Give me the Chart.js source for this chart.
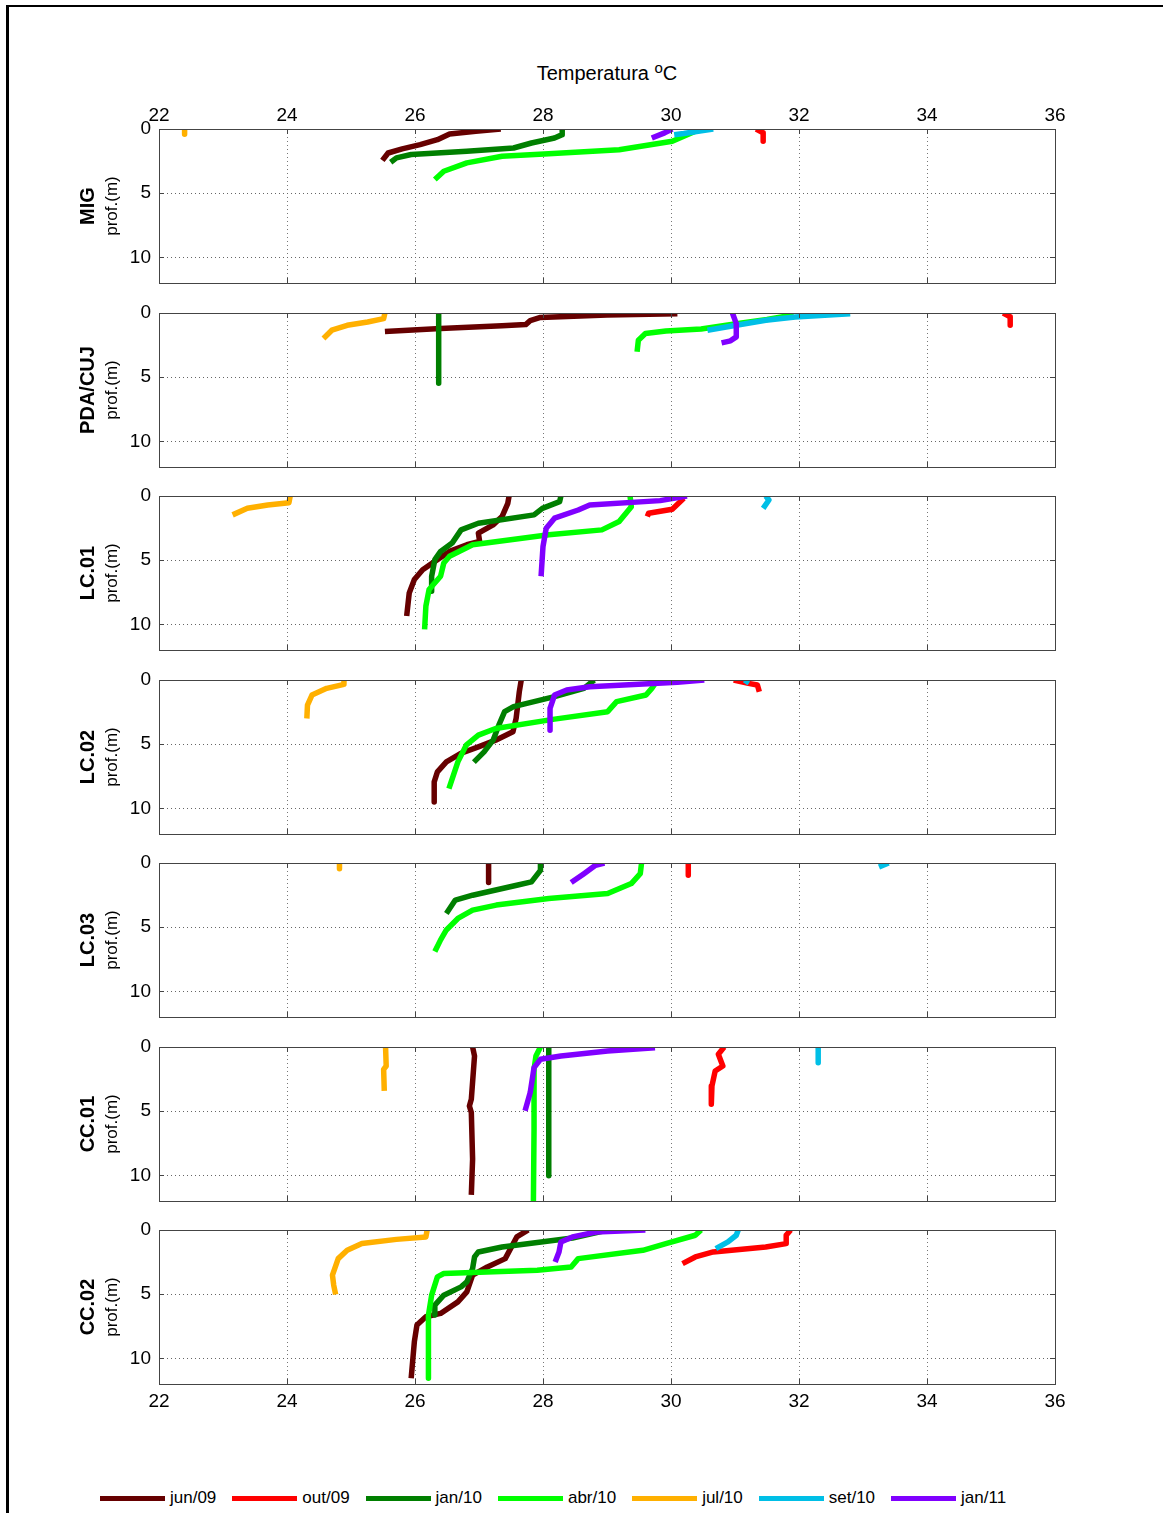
<!DOCTYPE html>
<html>
<head>
<meta charset="utf-8">
<script src="https://cdn.jsdelivr.net/npm/chart.js@4.4.1/dist/chart.umd.min.js"></script>
<style>
  body { margin: 0; background: #fff; width: 1163px; height: 1513px; overflow: hidden; position: relative; font-family: 'Liberation Sans', Arial, sans-serif; }
  #frame { position: absolute; left: 6px; top: 5px; width: 1300px; height: 1600px; border-left: 3px solid #000; border-top: 2px solid #000; }
  #title { position: absolute; left: 159px; width: 896px; top: 61px; line-height: 24px; text-align: center; font-size: 20px; color: #000; }
  #title sup { font-size: 15px; vertical-align: 7px; line-height: 0; }
  canvas { position: absolute; left: 0; }
  #legend { position: absolute; left: 100px; top: 1487px; height: 22px; display: flex; align-items: center; font-size: 17px; color: #000; }
  #legend .sw { width: 65px; height: 5px; margin-right: 5px; }
  #legend .lb { margin-right: 16px; }
</style>
</head>
<body>
<div id="frame"></div>
<div id="title">Temperatura <sup>o</sup>C</div>
<div id="legend"></div>
<script>
// Axis ticks
var tempTicks = [22, 24, 26, 28, 30, 32, 34, 36];
var depthTicks = [0, 5, 10];

// Campaigns and stations
var seriesNames = ['jun/09', 'out/09', 'jan/10', 'abr/10', 'jul/10', 'set/10', 'jan/11'];
var stationNames = ['MIG', 'PDA/CUJ', 'LC.01', 'LC.02', 'LC.03', 'CC.01', 'CC.02'];

// Profiles: [temperature (C), depth (m)]
// MIG
var migJun09 = [[27.34, 0], [26.95, 0.18], [26.54, 0.39], [26.35, 0.83], [26.08, 1.22], [25.8, 1.55], [25.58, 1.87], [25.49, 2.45]];
var migOut09 = [[31.33, 0], [31.44, 0.3], [31.44, 0.96]];
var migJan10 = [[28.3, 0], [28.3, 0.44], [28.18, 0.7], [27.82, 1.09], [27.54, 1.48], [26.81, 1.74], [25.94, 1.99], [25.71, 2.25], [25.62, 2.59]];
var migAbr10 = [[30.5, 0], [30.38, 0.18], [30.02, 0.96], [29.19, 1.61], [28.09, 1.92], [27.36, 2.12], [26.81, 2.64], [26.45, 3.29], [26.31, 3.94]];
var migJul10 = [[22.4, 0], [22.4, 0.4]];
var migSet10 = [[30.66, 0], [30.45, 0.15], [30.2, 0.35], [30.05, 0.45]];
var migJan11 = [[30.02, 0], [29.9, 0.3], [29.7, 0.7]];
// PDA/CUJ
var pdaJun09 = [[30.1, 0.05], [29.0, 0.15], [27.96, 0.35], [27.8, 0.6], [27.73, 0.9], [27.36, 1.0], [26.4, 1.2], [25.53, 1.45]];
var pdaOut09 = [[35.19, 0], [35.3, 0.3], [35.3, 0.96]];
var pdaJan10 = [[26.37, 0], [26.37, 5.48]];
var pdaAbr10 = [[31.9, 0], [31.85, 0.2], [31.5, 0.5], [31.02, 0.83], [30.47, 1.24], [29.92, 1.4], [29.6, 1.6], [29.49, 2.12], [29.47, 3.02]];
var pdaJul10 = [[25.53, 0], [25.51, 0.44], [25.26, 0.7], [24.94, 0.96], [24.7, 1.34], [24.57, 1.99]];
var pdaSet10 = [[32.8, 0.05], [31.94, 0.31], [31.48, 0.57], [31.02, 0.96], [30.57, 1.34]];
var pdaJan11 = [[30.96, 0], [31.02, 0.83], [31.02, 1.86], [30.93, 2.17], [30.79, 2.33]];
// LC.01
var lc1Jun09 = [[27.47, 0], [27.45, 0.57], [27.36, 1.6], [27.22, 2.25], [26.99, 2.89], [27.01, 3.54], [26.81, 3.8], [26.54, 4.32], [26.35, 4.96], [26.12, 5.74], [25.99, 6.51], [25.91, 7.55], [25.87, 9.35]];
var lc1Out09 = [[30.2, 0.18], [30.02, 1.03], [29.65, 1.34], [29.63, 1.6]];
var lc1Jan10 = [[28.28, 0], [28.26, 0.44], [27.99, 0.96], [27.86, 1.47], [26.99, 2.12], [26.72, 2.64], [26.58, 3.67], [26.4, 4.32], [26.31, 4.96], [26.26, 6.25], [26.26, 7.42]];
var lc1Abr10 = [[29.36, 0], [29.38, 0.83], [29.19, 1.99], [28.92, 2.64], [28.09, 3.02], [26.9, 3.8], [26.54, 4.7], [26.45, 5.22], [26.4, 6.25], [26.22, 7.29], [26.17, 8.58], [26.15, 10.39]];
var lc1Jul10 = [[24.05, 0], [24.03, 0.52], [23.7, 0.7], [23.38, 0.96], [23.15, 1.47]];
var lc1Set10 = [[31.48, 0], [31.53, 0.31], [31.44, 0.96]];
var lc1Jan11 = [[30.25, 0], [29.83, 0.36], [28.73, 0.7], [28.55, 1.09], [28.18, 1.73], [28.05, 2.51], [28.0, 3.93], [27.97, 6.25]];
// LC.02
var lc2Jun09 = [[27.66, 0], [27.63, 0.91], [27.58, 2.99], [27.53, 4.04], [27.26, 4.69], [26.99, 5.21], [26.71, 5.73], [26.49, 6.38], [26.35, 7.16], [26.3, 7.94], [26.3, 9.5]];
var lc2Out09 = [[30.98, 0], [31.21, 0.26], [31.35, 0.39], [31.38, 0.91]];
var lc2Jan10 = [[28.8, 0], [28.64, 0.65], [28.18, 1.3], [27.54, 2.08], [27.4, 2.47], [27.31, 3.52], [27.22, 4.69], [27.08, 5.6], [26.92, 6.4]];
var lc2Abr10 = [[29.79, 0], [29.7, 0.65], [29.61, 1.17], [29.15, 1.69], [29.01, 2.47], [28.18, 3.05], [27.26, 3.78], [26.99, 4.3], [26.8, 5.08], [26.67, 6.38], [26.53, 8.46]];
var lc2Jul10 = [[24.89, 0], [24.89, 0.34], [24.62, 0.65], [24.39, 1.17], [24.32, 1.95], [24.31, 3.0]];
var lc2Set10 = [[31.2, 0], [31.16, 0.3]];
var lc2Jan11 = [[30.52, 0], [30.1, 0.18], [28.73, 0.52], [28.37, 0.78], [28.18, 1.17], [28.11, 2.21], [28.11, 3.91]];
// LC.03
var lc3Jun09 = [[27.15, 0], [27.15, 1.52]];
var lc3Out09 = [[30.27, 0], [30.27, 0.96]];
var lc3Jan10 = [[27.96, 0], [27.96, 0.57], [27.82, 1.47], [27.59, 1.73], [26.9, 2.51], [26.63, 2.89], [26.49, 3.93]];
var lc3Abr10 = [[29.54, 0], [29.52, 0.83], [29.38, 1.6], [29.01, 2.38], [28.09, 2.76], [27.27, 3.28], [26.9, 3.67], [26.67, 4.32], [26.49, 5.22], [26.4, 5.99], [26.31, 6.9]];
var lc3Jul10 = [[24.82, 0], [24.82, 0.44]];
var lc3Set10 = [[33.4, 0], [33.25, 0.31]];
var lc3Jan11 = [[28.96, 0], [28.82, 0.18], [28.64, 0.83], [28.44, 1.52]];
// CC.01
var cc1Jun09 = [[26.9, 0], [26.93, 0.7], [26.88, 4.07], [26.85, 4.59], [26.88, 5.1], [26.9, 8.73], [26.88, 11.53]];
var cc1Out09 = [[30.83, 0], [30.74, 0.57], [30.81, 1.48], [30.69, 1.87], [30.64, 3.03], [30.63, 4.46]];
var cc1Jan10 = [[28.09, 0], [28.09, 10.03]];
var cc1Abr10 = [[27.96, 0], [27.89, 0.7], [27.86, 1.74], [27.86, 6.4], [27.85, 12]];
var cc1Jul10 = [[25.54, 0], [25.55, 1.48], [25.51, 1.74], [25.52, 3.42]];
var cc1Set10 = [[32.3, 0], [32.3, 1.22]];
var cc1Jan11 = [[29.75, 0.05], [29.01, 0.31], [28.28, 0.7], [27.96, 0.96], [27.86, 1.61], [27.8, 3.55], [27.72, 4.97]];
// CC.02
var cc2Jun09 = [[27.77, 0], [27.59, 0.54], [27.41, 2.23], [27.13, 2.88], [26.9, 3.52], [26.81, 4.82], [26.67, 5.6], [26.4, 6.5], [26.17, 6.76], [26.03, 7.41], [25.99, 8.7], [25.94, 11.55]];
var cc2Out09 = [[31.87, 0], [31.8, 0.41], [31.8, 1.06], [31.48, 1.32], [30.66, 1.71], [30.38, 2.1], [30.18, 2.62]];
var cc2Jan10 = [[29.01, 0], [28.46, 0.62], [27.36, 1.32], [26.99, 1.71], [26.93, 2.1], [26.9, 3.0], [26.81, 4.04], [26.72, 4.43], [26.45, 5.08], [26.31, 5.85], [26.31, 6.63]];
var cc2Abr10 = [[30.47, 0], [30.38, 0.41], [29.92, 1.06], [29.56, 1.58], [28.55, 2.23], [28.44, 2.88], [27.91, 3.13], [26.45, 3.39], [26.35, 3.65], [26.26, 5.08], [26.21, 6.63], [26.21, 11.55]];
var cc2Jul10 = [[26.19, 0], [26.17, 0.54], [25.71, 0.73], [25.17, 1.06], [24.94, 1.58], [24.8, 2.23], [24.71, 3.52], [24.73, 4.3], [24.76, 5.03]];
var cc2Set10 = [[31.05, 0], [31.02, 0.41], [30.89, 0.93], [30.7, 1.45]];
var cc2Jan11 = [[29.6, 0], [28.83, 0.16], [28.46, 0.54], [28.28, 0.93], [28.25, 1.71], [28.19, 2.49]];

var profiles = [
  [migJun09, migOut09, migJan10, migAbr10, migJul10, migSet10, migJan11],
  [pdaJun09, pdaOut09, pdaJan10, pdaAbr10, pdaJul10, pdaSet10, pdaJan11],
  [lc1Jun09, lc1Out09, lc1Jan10, lc1Abr10, lc1Jul10, lc1Set10, lc1Jan11],
  [lc2Jun09, lc2Out09, lc2Jan10, lc2Abr10, lc2Jul10, lc2Set10, lc2Jan11],
  [lc3Jun09, lc3Out09, lc3Jan10, lc3Abr10, lc3Jul10, lc3Set10, lc3Jan11],
  [cc1Jun09, cc1Out09, cc1Jan10, cc1Abr10, cc1Jul10, cc1Set10, cc1Jan11],
  [cc2Jun09, cc2Out09, cc2Jan10, cc2Abr10, cc2Jul10, cc2Set10, cc2Jan11]
];

// Styles
var seriesColors = ['#660000', '#ff0000', '#007f00', '#00ff00', '#ffb000', '#00bfe6', '#8000ff'];
var fontFamily = "'Liberation Sans', Arial, sans-serif";

Chart.defaults.font.family = fontFamily;
Chart.defaults.color = '#000';

// Box around the plot with inward tick marks (matlab style)
var boxPlugin = {
  id: 'box',
  afterDatasetsDraw: function (chart) {
    var ctx = chart.ctx;
    var a = chart.chartArea;
    var xs = chart.scales.x;
    var ys = chart.scales.y;
    ctx.save();
    ctx.strokeStyle = '#444';
    ctx.lineWidth = 1;
    ctx.strokeRect(Math.round(a.left) + 0.5, Math.round(a.top) + 0.5, Math.round(a.right - a.left), Math.round(a.bottom - a.top));
    ctx.beginPath();
    tempTicks.forEach(function (v) {
      var px = Math.round(xs.getPixelForValue(v)) + 0.5;
      ctx.moveTo(px, a.top); ctx.lineTo(px, a.top + 5);
      ctx.moveTo(px, a.bottom); ctx.lineTo(px, a.bottom - 5);
    });
    depthTicks.forEach(function (v) {
      var py = Math.round(ys.getPixelForValue(v)) + 0.5;
      ctx.moveTo(a.left, py); ctx.lineTo(a.left + 5, py);
      ctx.moveTo(a.right, py); ctx.lineTo(a.right - 5, py);
    });
    ctx.stroke();
    ctx.restore();
  }
};

stationNames.forEach(function (name, i) {
  var isTop = i === 0;
  var isBottom = i === stationNames.length - 1;
  var plotTop = 129 + Math.round(i * 183.5);

  var canvas = document.createElement('canvas');
  canvas.width = 1163;
  canvas.height = 234;
  canvas.style.top = (plotTop - 40) + 'px';
  document.body.appendChild(canvas);

  var datasets = profiles[i].map(function (prof, k) {
    return {
      label: seriesNames[k],
      data: prof.map(function (p) { return { x: p[0], y: p[1] }; }),
      showLine: true,
      borderColor: seriesColors[k],
      backgroundColor: seriesColors[k],
      borderWidth: 5.5,
      borderJoinStyle: 'round',
      pointRadius: 0,
      clip: 0,
      order: seriesNames.length - k
    };
  });

  new Chart(canvas, {
    type: 'scatter',
    data: { datasets: datasets },
    options: {
      responsive: false,
      animation: false,
      events: [],
      layout: { padding: { left: 76, right: 108, top: isTop ? 0 : 40, bottom: isTop ? 40 : 0 } },
      plugins: {
        legend: { display: false },
        tooltip: { enabled: false },
        title: {
          display: true, position: 'left', fullSize: false, text: name, color: '#000', padding: 0,
          font: { size: 20, weight: 'bold', family: fontFamily }
        }
      },
      scales: {
        x: {
          type: 'linear', position: isTop ? 'top' : 'bottom', min: 22, max: 36,
          afterBuildTicks: function (s) { s.ticks = tempTicks.map(function (v) { return { value: v }; }); },
          afterFit: function (s) { s.height = 40; },
          grid: { color: '#777', lineWidth: 1, drawTicks: false },
          border: { display: false, dash: [1, 3] },
          ticks: { display: isTop || isBottom, color: '#000', padding: isTop ? 2 : 6, maxRotation: 0, autoSkip: false, font: { size: 19 } }
        },
        y: {
          type: 'linear', reverse: true, min: 0, max: 12,
          afterBuildTicks: function (s) { s.ticks = depthTicks.map(function (v) { return { value: v }; }); },
          afterFit: function (s) { s.width = 59; },
          grid: { color: '#666', lineWidth: 1, drawTicks: false },
          border: { display: false, dash: [1, 3] },
          ticks: { color: '#000', padding: 8, font: { size: 19 } },
          title: { display: true, text: 'prof.(m)', color: '#000', padding: { top: 2, bottom: 0 }, font: { size: 17 } }
        }
      }
    },
    plugins: [boxPlugin]
  });
});

// Legend
var legend = document.getElementById('legend');
seriesNames.forEach(function (n, k) {
  var sw = document.createElement('span');
  sw.className = 'sw';
  sw.style.background = seriesColors[k];
  var lb = document.createElement('span');
  lb.className = 'lb';
  lb.textContent = n;
  legend.appendChild(sw);
  legend.appendChild(lb);
});
</script>
</body>
</html>
